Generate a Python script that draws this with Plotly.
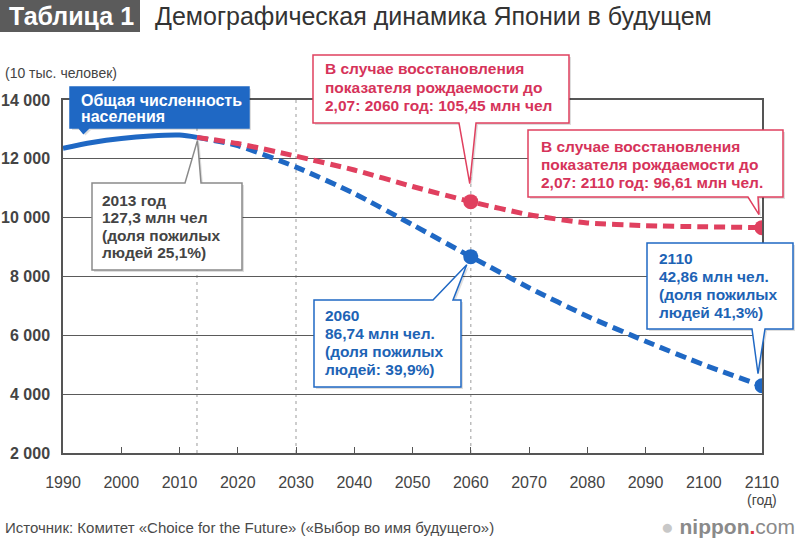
import plotly.graph_objects as go

# ---------------- data ----------------
years_hist = [1990, 1995, 2000, 2005, 2010, 2013]
pop_hist = [12361, 12557, 12693, 12777, 12806, 12730]

years_proj = [2013, 2020, 2030, 2040, 2050, 2060, 2070, 2080, 2090, 2100, 2110]
pop_base = [12730, 12450, 11720, 10820, 9760, 8674, 7620, 6650, 5800, 5000, 4286]
pop_recov = [12730, 12520, 12090, 11620, 11060, 10545, 10100, 9820, 9730, 9690, 9661]

marker_years = [2060, 2110]
base_marks = [8674, 4286]
recov_marks = [10545, 9661]

ref_years = [2013, 2030, 2060]

x_ticks = [1990, 2000, 2010, 2020, 2030, 2040, 2050, 2060, 2070, 2080, 2090, 2100, 2110]
x_labels = ["1990", "2000", "2010", "2020", "2030", "2040", "2050", "2060", "2070",
            "2080", "2090", "2100", "2110"]
y_ticks = [2000, 4000, 6000, 8000, 10000, 12000, 14000]
y_labels = ["2 000", "4 000", "6 000", "8 000", "10 000", "12 000", "14 000"]

# ---------------- style ----------------
W, H = 800, 545
L, R, T, B = 63, 38, 100, 92
PW, PH = W - L - R, H - T - B
XMIN, XMAX, YMIN, YMAX = 1990, 2110, 2000, 14000

BLUE = "#1f68c4"
RED = "#e0405f"
REDTXT = "#d6335a"
BLUETXT = "#1d63b5"
GRAYTXT = "#444444"
NARROW = "Liberation Sans Narrow, Arial Narrow, Liberation Sans, Arial, sans-serif"
SANS = "Liberation Sans, Arial, sans-serif"


def px_x(year):
    return L + (year - XMIN) * PW / (XMAX - XMIN)


def px_y(v):
    return T + PH - (v - YMIN) * PH / (YMAX - YMIN)


def pp(px, py):
    return ((px - L) / PW, (T + PH - py) / PH)


def path(points):
    s = ""
    for i, (px, py) in enumerate(points):
        a, b = pp(px, py)
        s += ("M" if i == 0 else "L") + f"{a:.5f},{b:.5f} "
    return s + "Z"


def callout_points(x0, y0, x1, y1, side, b0, b1, tip):
    if side == "bottom":
        return [(x0, y0), (x1, y0), (x1, y1), (b1, y1), tip, (b0, y1), (x0, y1)]
    return [(x0, y0), (b0, y0), tip, (b1, y0), (x1, y0), (x1, y1), (x0, y1)]


shapes = []
annotations = []


def add_callout(box, side, base, tip, fill, border, lines, tx, tys, color, size=15.5):
    pts = callout_points(box[0], box[1], box[2], box[3], side, base[0], base[1], tip)
    shadow = [(p[0] + 2, p[1] + 2) for p in pts]
    shapes.append(dict(type="path", xref="paper", yref="paper", path=path(shadow),
                       fillcolor="rgba(0,0,0,0.13)", line=dict(width=0), layer="above"))
    shapes.append(dict(type="path", xref="paper", yref="paper", path=path(pts),
                       fillcolor=fill, line=dict(color=border, width=1.5), layer="above"))
    for line, ty in zip(lines, tys):
        a, b = pp(tx, ty)
        annotations.append(dict(x=a, y=b, xref="paper", yref="paper", text=line,
                                showarrow=False, xanchor="left", yanchor="middle",
                                font=dict(family=SANS, size=size, color=color, weight="bold")))


fig = go.Figure()

fig.add_trace(go.Scatter(x=years_hist, y=pop_hist, mode="lines",
                         line=dict(color=BLUE, width=5, shape="spline", smoothing=0.8),
                         hoverinfo="skip"))
fig.add_trace(go.Scatter(x=years_proj, y=pop_base, mode="lines",
                         line=dict(color=BLUE, width=5, dash="11px,6px", shape="spline", smoothing=0.6),
                         hoverinfo="skip"))
fig.add_trace(go.Scatter(x=years_proj, y=pop_recov, mode="lines",
                         line=dict(color=RED, width=5, dash="11px,6px", shape="spline", smoothing=0.6),
                         hoverinfo="skip"))
fig.add_trace(go.Scatter(x=marker_years, y=recov_marks, mode="markers",
                         marker=dict(color=RED, size=15), hoverinfo="skip"))
fig.add_trace(go.Scatter(x=marker_years, y=base_marks, mode="markers",
                         marker=dict(color=BLUE, size=15), hoverinfo="skip"))

# vertical reference lines
for yr in ref_years:
    shapes.append(dict(type="line", xref="x", yref="paper", x0=yr, x1=yr, y0=0, y1=1,
                       line=dict(color="#bdbdbd", width=1.5, dash="3px,4px"), layer="below"))

# ---------------- callouts ----------------
add_callout((70, 87, 249, 128), "bottom", (79, 89),
            (px_x(1993.5), px_y(pop_hist[1]) - 9), BLUE, BLUE,
            ["Общая численность", "населения"], 79, [100, 117], "white", 16)

add_callout((92, 183, 242, 270), "top", (185, 201),
            (px_x(years_hist[-1]) + 0.5, px_y(pop_hist[-1]) + 3), "white", "#8a8a8a",
            ["2013 год", "127,3 млн чел", "(доля пожилых", "людей 25,1%)"],
            100, [200, 217.5, 235, 252.5], GRAYTXT)

add_callout((313, 55, 569, 123), "bottom", (459, 476),
            (px_x(marker_years[0]) - 1, px_y(recov_marks[0]) - 18), "white", RED,
            ["В случае восстановления", "показателя рождаемости до",
             "2,07: 2060 год: 105,45 млн чел"], 323, [69, 87.5, 106], REDTXT)

add_callout((528, 130, 783, 197), "bottom", (748, 758),
            (px_x(marker_years[1]) - 3, px_y(recov_marks[1]) - 13), "white", RED,
            ["В случае восстановления", "показателя рождаемости до",
             "2,07: 2110 год: 96,61 млн чел."], 539, [146, 164, 182], REDTXT)

add_callout((314, 300, 461, 387), "top", (433, 453),
            (px_x(marker_years[0]) - 4, px_y(base_marks[0]) + 8), "white", BLUE,
            ["2060", "86,74 млн чел.", "(доля пожилых", "людей: 39,9%)"],
            323, [315, 333, 351, 369], BLUETXT)

add_callout((647, 243, 793, 329), "bottom", (752, 765),
            (px_x(marker_years[1]) - 4, px_y(base_marks[1]) - 12), "white", BLUE,
            ["2110", "42,86 млн чел.", "(доля пожилых", "людей 41,3%)"],
            657, [258, 276, 294, 312], BLUETXT)

# ---------------- header / footer ----------------
shapes.append(dict(type="path", xref="paper", yref="paper",
                   path=path([(0, 0), (140, 0), (140, 32), (0, 32)]),
                   fillcolor="#5b5b5b", line=dict(width=0), layer="above"))


def text_at(px, py, txt, size, color, family=NARROW, anchor="left", weight="normal"):
    a, b = pp(px, py)
    annotations.append(dict(x=a, y=b, xref="paper", yref="paper", text=txt, showarrow=False,
                            xanchor=anchor, yanchor="middle",
                            font=dict(family=family, size=size, color=color, weight=weight)))


text_at(71, 16, "Таблица 1", 25, "white", anchor="center", weight="bold")
text_at(153, 16, "Демографическая динамика Японии в будущем", 25, "#333333")
text_at(3, 73, "(10 тыс. человек)", 14, GRAYTXT)
text_at(762, 500, "(год)", 14, GRAYTXT, anchor="center")
text_at(3, 527, "Источник: Комитет «Choice for the Future» («Выбор во имя будущего»)", 15, "#4a4a4a")
text_at(797, 526,
        "<span style='color:#c8c8c8'>●</span> <b>nippon</b><span style='color:#e03040'><b>.</b></span>com",
        21, "#8a8a8a", family=SANS, anchor="right")

fig.update_layout(
    width=W, height=H,
    margin=dict(l=L, r=R, t=T, b=B, autoexpand=False),
    plot_bgcolor="white", paper_bgcolor="white",
    showlegend=False,
    shapes=shapes, annotations=annotations,
    xaxis=dict(range=[XMIN, XMAX], tickmode="array", tickvals=x_ticks, ticktext=x_labels,
               ticks="inside", ticklen=6, tickwidth=1.2, tickcolor="#555",
               showline=True, linecolor="#555", linewidth=1.5, mirror=True,
               showgrid=False, zeroline=False, automargin=False,
               ticklabelstandoff=14,
               tickfont=dict(family=SANS, size=16, color=GRAYTXT)),
    yaxis=dict(range=[YMIN, YMAX], tickmode="array", tickvals=y_ticks, ticktext=y_labels,
               ticks="", showline=True, linecolor="#555", linewidth=1.5, mirror=True,
               showgrid=True, gridcolor="#5a5a5a", gridwidth=1.3, zeroline=False,
               automargin=False, ticklabelstandoff=8,
               tickfont=dict(family=SANS, size=16, color=GRAYTXT, weight="bold")),
)

fig.write_html("out.html",
               config={"displayModeBar": False},
               post_script="document.body.style.margin='0px';document.body.style.overflow='hidden';")
